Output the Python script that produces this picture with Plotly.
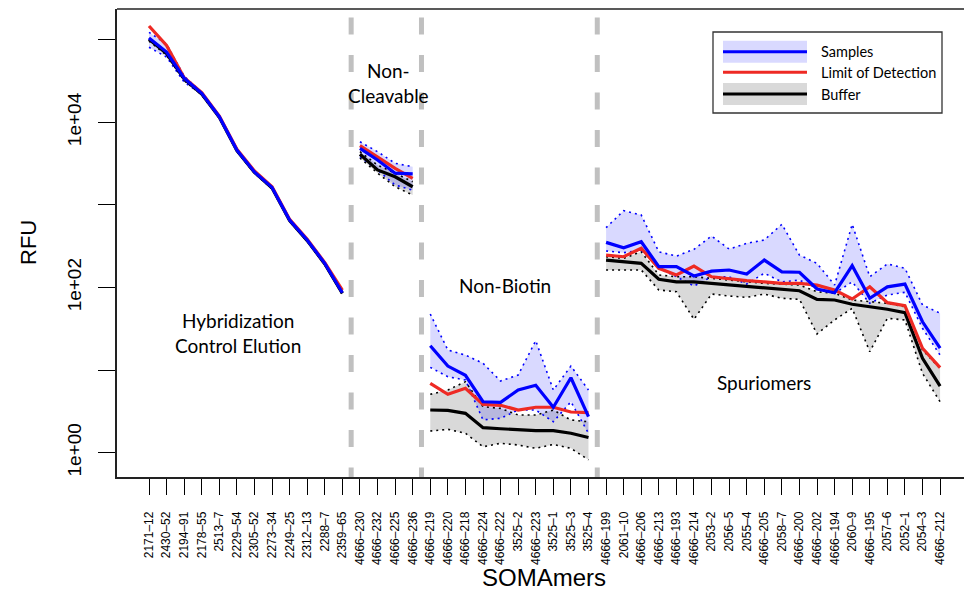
import plotly.graph_objects as go

# ---------------- data ----------------
somamers = [
    "2171-12", "2430-52", "2194-91", "2178-55", "2513-7", "2229-54", "2305-52", "2273-34",
    "2249-25", "2312-13", "2288-7", "2359-65",
    "4666-230", "4666-232", "4666-225", "4666-236",
    "4666-219", "4666-220", "4666-218", "4666-224", "4666-222", "3525-2", "4666-223",
    "3525-1", "3525-3", "3525-4",
    "4666-199", "2061-10", "4666-206", "4666-213", "4666-193", "4666-214", "2053-2",
    "2056-5", "2055-4", "4666-205", "2058-7", "4666-200", "4666-202", "4666-194",
    "2060-9", "4666-195", "2057-6", "2052-1", "2054-3", "4666-212",
]
group_sizes = [12, 4, 10, 20]
group_names = ["Hybridization<br>Control Elution", "Non-<br>Cleavable", "Non-Biotin", "Spuriomers"]

samples = [105000, 70800, 34300, 22400, 11700, 4620, 2510, 1630, 656, 376, 196, 86.5,
           4840, 3500, 2420, 2370,
           19.7, 11.2, 8.65, 4.14, 4.07, 5.74, 6.55, 3.55, 8.09, 2.73,
           352, 303, 358, 179, 179, 138, 158, 163, 146, 215, 155, 153, 95.9, 86.5, 184,
           74.0, 102, 110, 38.5, 18.4]
samples_hi = [123000, 88700, 36300, 23000, 12000, 4750, 2580, 1680, 675, 387, 202, 90,
              5820, 4410, 3190, 2900,
              47.8, 17.5, 15.2, 12.1, 7.38, 8.73, 22.7, 5.74, 11.2, 5.74,
              530, 851, 755, 271, 240, 290, 420, 292, 343, 376, 582, 247, 196, 107, 582,
              135, 193, 171, 61.4, 48.8]
samples_lo = [81000, 61700, 30700, 21800, 11400, 4500, 2440, 1580, 638, 366, 190, 83,
              3840, 2650, 1740, 1510,
              10.8, 8.32, 7.59, 2.5, 2.61, 3.29, 3.29, 2.37, 4.14, 1.72,
              277, 264, 284, 171, 135, 104, 135, 135, 110, 149, 117, 123, 97.7, 85.1, 117,
              64.4, 81.1, 87.5, 32.1, 15.2]
lod = [146600, 85100, 34700, 22900, 11900, 4730, 2570, 1660, 668, 385, 200, 93.3,
       5210, 3840, 2770, 2100,
       6.92, 5.09, 6.03, 3.85, 3.75, 3.29, 3.55, 3.55, 3.11, 3.05,
       247, 236, 299, 171, 142, 182, 135, 127, 121, 117, 112, 112, 107, 93.3, 72.6,
       102, 65.5, 60.3, 18.4, 10.7]
buffer = [101000, 68000, 33500, 22000, 11500, 4550, 2480, 1600, 645, 370, 193, 85,
          4100, 2650, 2190, 1660,
          3.29, 3.26, 3.00, 2.01, 1.95, 1.88, 1.85, 1.85, 1.72, 1.53,
          215, 205, 196, 126, 117, 117, 112, 109, 104, 100, 95.9, 91.4, 71.9, 70.6, 62.7,
          58.6, 54.5, 49.5, 13.9, 6.41]
buffer_hi = [104000, 70000, 34500, 22500, 11800, 4650, 2520, 1630, 655, 378, 197, 87,
             4410, 3040, 2420, 1910,
             5.09, 5.74, 7.24, 3.61, 3.44, 2.86, 2.86, 3.29, 2.49, 2.37,
             236, 225, 271, 142, 135, 135, 129, 123, 117, 112, 110, 107, 88.9, 85.1, 70.6,
             67.3, 64.4, 58.6, 17.5, 10.5]
buffer_lo = [96000, 65000, 32000, 21400, 11200, 4450, 2420, 1560, 630, 362, 188, 82,
             3700, 2430, 1660, 1320,
             1.83, 1.92, 1.72, 1.18, 1.30, 1.24, 1.13, 1.26, 1.13, 0.82,
             163, 163, 163, 93.3, 88.9, 41.2, 83.4, 78.9, 76.0, 83.4, 74.0, 71.9, 27.4, 40.5,
             56.0, 16.7, 42.4, 40.5, 9.14, 4.14]

y_tick_vals = [1, 10, 100, 1000, 10000, 100000]
y_tick_text = ["1e+00", "", "1e+02", "", "1e+04", ""]

# ---------------- styling ----------------
W, H = 964, 593
L, R, T, B = 117, 0, 9, 116
BLUE_FILL = "rgba(0,0,255,0.15)"
GREY_FILL = "rgba(0,0,0,0.15)"
BLUE = "#0000ff"
RED = "#ee2a24"
BLACK = "#000000"
TXT_FONT = "Lato"
AX_FONT = "Liberation Sans"


def px2paper(px, py):
    return (px - L) / (W - L - R), (H - B - py) / (H - T - B)


x_all = list(range(1, len(somamers) + 1))
fig = go.Figure()

start = 0
for gsize in group_sizes:
    idx = list(range(start, start + gsize))
    xs = [x_all[i] for i in idx]
    # bands
    for hi, lo, fillc in [(buffer_hi, buffer_lo, GREY_FILL),
                          (samples_hi, samples_lo, BLUE_FILL)]:
        fig.add_trace(go.Scatter(
            x=xs + xs[::-1], y=[hi[i] for i in idx] + [lo[i] for i in idx][::-1],
            fill="toself", fillcolor=fillc, line=dict(width=0), mode="lines",
            hoverinfo="skip", showlegend=False))
    for hi, lo, edge in [(buffer_hi, buffer_lo, BLACK), (samples_hi, samples_lo, BLUE)]:
        for arr in (hi, lo):
            fig.add_trace(go.Scatter(
                x=xs, y=[arr[i] for i in idx], mode="lines",
                line=dict(color=edge, width=1.6, dash="2px,4px"), showlegend=False))
    for arr, col in [(buffer, BLACK), (lod, RED), (samples, BLUE)]:
        fig.add_trace(go.Scatter(
            x=xs, y=[arr[i] for i in idx], mode="lines",
            line=dict(color=col, width=3.2), showlegend=False))
    start += gsize

shapes = []
annotations = []

# group separators
bounds = []
acc = 0
for gsize in group_sizes[:-1]:
    acc += gsize
    bounds.append(acc + 0.5)
for b in bounds:
    shapes.append(dict(type="line", xref="x", yref="paper", x0=b, x1=b, y0=0.982, y1=0.0,
                       line=dict(color="#c0c0c0", width=5, dash="17px,20.5px"), layer="above"))

# top frame line
shapes.append(dict(type="line", xref="paper", yref="paper", x0=0, x1=1, y0=1, y1=1,
                   line=dict(color="#222222", width=1.5)))

# group labels
label_pos = [(238, 333), (388, 83), (505, 285), (764, 382)]
for name, (px, py) in zip(group_names, label_pos):
    ax, ay = px2paper(px, py)
    annotations.append(dict(x=ax, y=ay, xref="paper", yref="paper", text=name, showarrow=False,
                            font=dict(family=TXT_FONT, size=19, color="black"),
                            xanchor="center", yanchor="middle", align="center"))

# legend
bx0, by0 = px2paper(713, 32)
bx1, by1 = px2paper(942, 113)
shapes.append(dict(type="rect", xref="paper", yref="paper", x0=bx0, y0=by0, x1=bx1, y1=by1,
                   line=dict(color="#333333", width=1.3), fillcolor="white", layer="above"))
legend_items = [("Samples", BLUE, BLUE_FILL, 51.7), ("Limit of Detection", RED, None, 72.3),
                ("Buffer", BLACK, GREY_FILL, 94)]
for name, col, fillc, py in legend_items:
    if fillc:
        rx0, ry0 = px2paper(723, py - 11)
        rx1, ry1 = px2paper(807, py + 11)
        shapes.append(dict(type="rect", xref="paper", yref="paper", x0=rx0, y0=ry0, x1=rx1, y1=ry1,
                           line=dict(width=0), fillcolor=fillc, layer="above"))
    lx0, ly = px2paper(723, py)
    lx1, _ = px2paper(807, py)
    shapes.append(dict(type="line", xref="paper", yref="paper", x0=lx0, x1=lx1, y0=ly, y1=ly,
                       line=dict(color=col, width=3), layer="above"))
    tx, ty = px2paper(819, py)
    annotations.append(dict(x=tx, y=ty, xref="paper", yref="paper", text=name, showarrow=False,
                            xanchor="left", yanchor="middle",
                            font=dict(family=TXT_FONT, size=14.5, color="black")))

# axis titles
tx, ty = px2paper(28, 243)
annotations.append(dict(x=tx, y=ty, xref="paper", yref="paper", text="RFU", showarrow=False,
                        textangle=-90, xanchor="center", yanchor="middle",
                        font=dict(family=AX_FONT, size=22, color="black")))
tx, ty = px2paper(544, 577)
annotations.append(dict(x=tx, y=ty, xref="paper", yref="paper", text="SOMAmers", showarrow=False,
                        xanchor="center", yanchor="middle",
                        font=dict(family=AX_FONT, size=24, color="black")))

fig.update_layout(
    width=W, height=H, margin=dict(l=L, r=R, t=T, b=B, pad=0),
    plot_bgcolor="white", paper_bgcolor="white",
    shapes=shapes, annotations=annotations, showlegend=False,
    xaxis=dict(range=[-0.82, 47.36], tickvals=x_all,
               ticktext=[s.replace("-", "\u2013") for s in somamers],
               tickangle=-90, ticks="outside", ticklen=16, tickwidth=1.3, tickcolor="black",
               showline=True, linecolor="#222222", linewidth=1.5, mirror=False,
               showgrid=False, zeroline=False, ticklabelstandoff=12,
               tickfont=dict(family=AX_FONT, size=12, color="black")),
    yaxis=dict(type="log", range=[-0.294, 5.372], tickvals=y_tick_vals, ticktext=y_tick_text,
               tickangle=-90, ticks="outside", ticklen=17, tickwidth=1.3, tickcolor="black",
               showline=True, linecolor="#222222", linewidth=1.5, mirror=False,
               showgrid=False, zeroline=False, ticklabelstandoff=10,
               tickfont=dict(family=AX_FONT, size=19, color="black")),
)

fig.write_html("out.html")
